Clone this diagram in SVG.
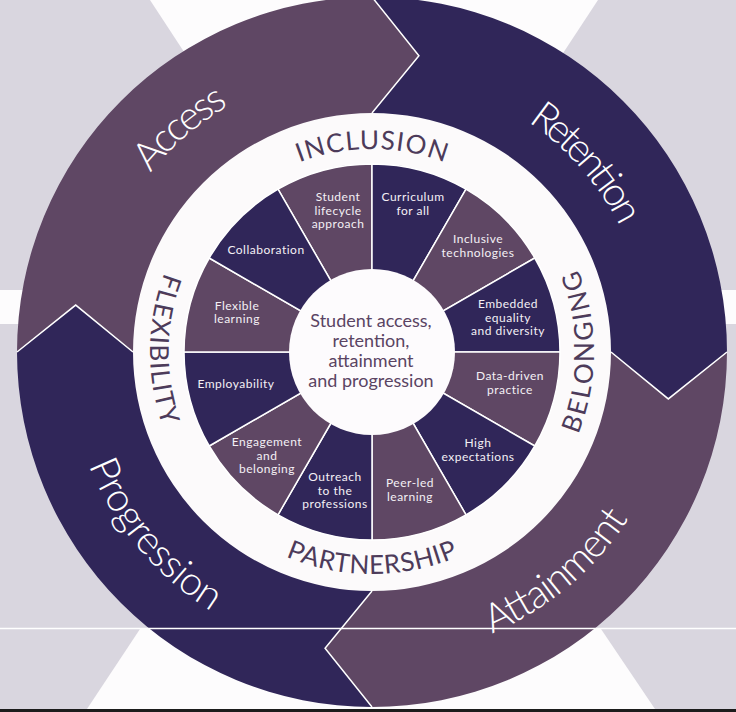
<svg xmlns="http://www.w3.org/2000/svg" width="736" height="712" viewBox="0 0 736 712">
<style>
.bg{fill:#d9d6df}
.mauve{fill:#5f4764}
.dark{fill:#302659}
.wedge{stroke:#ffffff;stroke-width:1.5;stroke-linejoin:round}
.div{fill:none;stroke:#ffffff;stroke-width:1.5;stroke-linejoin:miter}
.big{font-family:Lato,"Liberation Sans",sans-serif;font-weight:300;font-size:40px;fill:#ffffff}
.ring{font-family:Lato,"Liberation Sans",sans-serif;font-size:26px;fill:#4d3b5a}
.lbl{font-family:Lato,"Liberation Sans",sans-serif;font-size:12px;letter-spacing:0.5px;fill:#f4f0f5;text-anchor:middle}
.ctr{font-family:Lato,"Liberation Sans",sans-serif;font-size:18px;fill:#5a4463;text-anchor:middle}
</style>
<defs>
<path id="pAccess" d="M91.86 404.43 A285 285 0 0 1 466.67 83.18"/>
<path id="pRetention" d="M317.05 79.48 A278 278 0 0 1 635.48 440.67"/>
<path id="pAttainment" d="M267.34 639.55 A306 306 0 0 0 673.35 298.86"/>
<path id="pProgression" d="M85.39 247.68 A305 305 0 0 0 424.96 652.37"/>
<path id="pInclusion" d="M196.2 250.5 A203 203 0 0 1 547.8 250.5"/>
<path id="pBelonging" d="M483 544.26 A222 222 0 0 0 483 159.74"/>
<path id="pFlexibility" d="M263.53 158.3 A222 222 0 0 0 258.49 542.79"/>
<path id="pPartnership" d="M179.74 463 A222 222 0 0 0 564.26 463"/>
</defs>

<g id="background">
<rect x="0" y="0" width="736" height="712" fill="#fdfcfd"/>
<polygon class="bg" points="0,0 150,0 340,290 0,290"/>
<polygon class="bg" points="598,0 736,0 736,290 407,290"/>
<rect class="bg" x="0" y="324" width="736" height="304"/>
<polygon class="bg" points="0,629 140,629 85,712 0,712"/>
<polygon class="bg" points="601,629 736,629 736,712 657,712"/>
<circle cx="372" cy="352" r="240" fill="#fcfafb"/>
</g>

<g id="band-access">
<path class="mauve" d="M17 352 A355 355 0 0 1 372 -3 L418.93 55.69 L372 113 A239 239 0 0 0 133 352 L75.69 305.07 Z"/>
</g>
<g id="band-retention">
<path class="dark" d="M372 -3 A355 355 0 0 1 727 352 L668.31 398.93 L611 352 A239 239 0 0 0 372 113 L418.93 55.69 Z"/>
</g>
<g id="band-attainment">
<path class="mauve" d="M727 352 A355 355 0 0 1 372 707 L325.07 648.31 L372 591 A239 239 0 0 0 611 352 L668.31 398.93 Z"/>
</g>
<g id="band-progression">
<path class="dark" d="M372 707 A355 355 0 0 1 17 352 L75.69 305.07 L133 352 A239 239 0 0 0 372 591 L325.07 648.31 Z"/>
</g>

<g id="dividers">
<polyline class="div" points="372,-3 418.93,55.69 372,113"/>
<polyline class="div" points="727,352 668.31,398.93 611,352"/>
<polyline class="div" points="372,707 325.07,648.31 372,591"/>
<polyline class="div" points="17,352 75.69,305.07 133,352"/>
</g>

<line x1="0" y1="628.5" x2="736" y2="628.5" stroke="#ffffff" stroke-width="1.5"/>
<rect x="0" y="709" width="736" height="3" fill="#1c1c1c"/>

<g id="band-labels">
<text class="big"><textPath href="#pAccess" startOffset="50%" text-anchor="middle" textLength="104" lengthAdjust="spacing">Access</textPath></text>
<text class="big"><textPath href="#pRetention" startOffset="50%" text-anchor="middle" textLength="141" lengthAdjust="spacing">Retention</textPath></text>
<text class="big"><textPath href="#pAttainment" startOffset="50%" text-anchor="middle" textLength="181" lengthAdjust="spacing">Attainment</textPath></text>
<text class="big"><textPath href="#pProgression" startOffset="50%" text-anchor="middle" textLength="194" lengthAdjust="spacing">Progression</textPath></text>
</g>

<g id="ring-labels">
<text class="ring"><textPath href="#pInclusion" startOffset="50%" text-anchor="middle" textLength="148" lengthAdjust="spacing">INCLUSION</textPath></text>
<text class="ring"><textPath href="#pBelonging" startOffset="50%" text-anchor="middle" textLength="169" lengthAdjust="spacing">BELONGING</textPath></text>
<text class="ring"><textPath href="#pFlexibility" startOffset="50%" text-anchor="middle" textLength="156" lengthAdjust="spacing">FLEXIBILITY</textPath></text>
<text class="ring"><textPath href="#pPartnership" startOffset="50%" text-anchor="middle" textLength="177" lengthAdjust="spacing">PARTNERSHIP</textPath></text>
</g>

<g id="seg-student-lifecycle">
<path class="mauve wedge" d="M372 352 L278 189.2 A188 188 0 0 1 372 164 Z"/>
<text class="lbl"><tspan x="338" y="201">Student</tspan><tspan x="338" y="214.5">lifecycle</tspan><tspan x="338" y="228">approach</tspan></text>
</g>
<g id="seg-curriculum">
<path class="dark wedge" d="M372 352 L372 164 A188 188 0 0 1 466 189.2 Z"/>
<text class="lbl"><tspan x="413" y="201">Curriculum</tspan><tspan x="413" y="214.5">for all</tspan></text>
</g>
<g id="seg-inclusive-tech">
<path class="mauve wedge" d="M372 352 L466 189.2 A188 188 0 0 1 534.8 258 Z"/>
<text class="lbl"><tspan x="478" y="243">Inclusive</tspan><tspan x="478" y="256.5">technologies</tspan></text>
</g>
<g id="seg-embedded">
<path class="dark wedge" d="M372 352 L534.8 258 A188 188 0 0 1 560 352 Z"/>
<text class="lbl"><tspan x="508" y="308">Embedded</tspan><tspan x="508" y="321.5">equality</tspan><tspan x="508" y="335">and diversity</tspan></text>
</g>
<g id="seg-data-driven">
<path class="mauve wedge" d="M372 352 L560 352 A188 188 0 0 1 534.8 446 Z"/>
<text class="lbl"><tspan x="510" y="380">Data-driven</tspan><tspan x="510" y="393.5">practice</tspan></text>
</g>
<g id="seg-high-expectations">
<path class="dark wedge" d="M372 352 L534.8 446 A188 188 0 0 1 466 514.8 Z"/>
<text class="lbl"><tspan x="478" y="447">High</tspan><tspan x="478" y="460.5">expectations</tspan></text>
</g>
<g id="seg-peer-led">
<path class="mauve wedge" d="M372 352 L466 514.8 A188 188 0 0 1 372 540 Z"/>
<text class="lbl"><tspan x="410" y="487">Peer-led</tspan><tspan x="410" y="500.5">learning</tspan></text>
</g>
<g id="seg-outreach">
<path class="dark wedge" d="M372 352 L372 540 A188 188 0 0 1 278 514.8 Z"/>
<text class="lbl"><tspan x="335" y="481">Outreach</tspan><tspan x="335" y="494.5">to the</tspan><tspan x="335" y="508">professions</tspan></text>
</g>
<g id="seg-engagement">
<path class="mauve wedge" d="M372 352 L278 514.8 A188 188 0 0 1 209.2 446 Z"/>
<text class="lbl"><tspan x="267" y="446">Engagement</tspan><tspan x="267" y="459.5">and</tspan><tspan x="267" y="473">belonging</tspan></text>
</g>
<g id="seg-employability">
<path class="dark wedge" d="M372 352 L209.2 446 A188 188 0 0 1 184 352 Z"/>
<text class="lbl"><tspan x="236" y="388">Employability</tspan></text>
</g>
<g id="seg-flexible">
<path class="mauve wedge" d="M372 352 L184 352 A188 188 0 0 1 209.2 258 Z"/>
<text class="lbl"><tspan x="237" y="309.5">Flexible</tspan><tspan x="237" y="323">learning</tspan></text>
</g>
<g id="seg-collaboration">
<path class="dark wedge" d="M372 352 L209.2 258 A188 188 0 0 1 278 189.2 Z"/>
<text class="lbl"><tspan x="266" y="254">Collaboration</tspan></text>
</g>

<g id="centre">
<circle cx="372" cy="352" r="83" fill="#fdfbfd"/>
<text class="ctr"><tspan x="371" y="327">Student access,</tspan><tspan x="371" y="347">retention,</tspan><tspan x="371" y="367">attainment</tspan><tspan x="371" y="387">and progression</tspan></text>
</g>
</svg>
